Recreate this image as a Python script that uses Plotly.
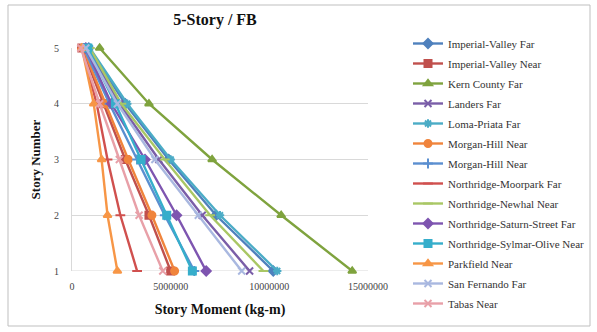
import plotly.graph_objects as go

# Story levels (1 = ground storey, 5 = roof)
stories = [1, 2, 3, 4, 5]

# Story moment (kg-m) per record, listed from story 1 to story 5
records = [
    "Imperial-Valley Far", "Imperial-Valley Near", "Kern County Far", "Landers Far",
    "Loma-Priata Far", "Morgan-Hill Near", "Morgan-Hill Near", "Northridge-Moorpark Far",
    "Northridge-Newhal Near", "Northridge-Saturn-Street Far", "Northridge-Sylmar-Olive Near",
    "Parkfield Near", "San Fernando Far", "Tabas Near",
]
imperial_valley_far = [10200000, 7300000, 4900000, 2700000, 850000]
imperial_valley_near = [5000000, 3900000, 2700000, 1600000, 500000]
kern_county_far = [14200000, 10600000, 7100000, 3900000, 1400000]
landers_far = [9000000, 6600000, 4400000, 2400000, 800000]
loma_priata_far = [10400000, 7500000, 5000000, 2800000, 900000]
morgan_hill_near_a = [5200000, 4050000, 2850000, 1700000, 550000]
morgan_hill_near_b = [6200000, 4700000, 3300000, 1900000, 600000]
northridge_moorpark_far = [3300000, 2450000, 1800000, 1250000, 500000]
northridge_newhal_near = [9700000, 7000000, 4700000, 2500000, 900000]
northridge_saturn_far = [6800000, 5300000, 3700000, 2000000, 700000]
northridge_sylmar_near = [6100000, 4800000, 3500000, 2200000, 800000]
parkfield_near = [2300000, 1800000, 1500000, 1100000, 500000]
san_fernando_far = [8600000, 6400000, 4200000, 2300000, 700000]
tabas_near = [4600000, 3400000, 2400000, 1400000, 450000]

series = [
    imperial_valley_far, imperial_valley_near, kern_county_far, landers_far,
    loma_priata_far, morgan_hill_near_a, morgan_hill_near_b, northridge_moorpark_far,
    northridge_newhal_near, northridge_saturn_far, northridge_sylmar_near,
    parkfield_near, san_fernando_far, tabas_near,
]
colors = [
    "#4F81BD", "#C0504D", "#7FA33E", "#7A5EA8", "#4BACC6", "#F0843C", "#5B8FD0",
    "#D0504E", "#A9C765", "#7E55B0", "#36AECB", "#F79646", "#A9B8E0", "#E8A0A8",
]
symbols = [
    "diamond", "square", "triangle-up", "x-thin-open", "asterisk-open", "circle",
    "cross-thin-open", "line-ew-open", "line-ew-open", "diamond", "square",
    "triangle-up", "x-thin-open", "x-thin-open",
]

fig = go.Figure()
for i, (name, vals) in enumerate(zip(records, series)):
    fig.add_trace(go.Scatter(
        x=vals, y=stories, name=name, mode="lines+markers",
        legendgroup=f"g{i}",
        line=dict(color=colors[i], width=2.4),
        marker=dict(symbol=symbols[i], size=7, color=colors[i],
                    line=dict(color=colors[i], width=2)),
        cliponaxis=False,
    ))

W, H = 597, 332
L, R, T, B = 72, 368, 48, 271
pw, ph = R - L, B - T


def px(x):
    return (x - L) / pw


def py(y):
    return (B - y) / ph


serif = "Times New Roman, Liberation Serif, serif"

fig.update_layout(
    width=W, height=H,
    margin=dict(l=L, r=W - R, t=T, b=H - B, pad=0, autoexpand=False),
    paper_bgcolor="white", plot_bgcolor="white",
    font=dict(family=serif, color="#222"),
    title=dict(text="<b>5-Story / FB</b>", x=215 / W, xanchor="center",
               y=1 - 19 / H, yanchor="middle",
               font=dict(size=16, family=serif, color="#111")),
    xaxis=dict(range=[0, 15000000], tickvals=[0, 5000000, 10000000, 15000000],
               ticktext=["0", "5000000", "10000000", "15000000"],
               showgrid=False, zeroline=False, showline=False, ticks="",
               ticklabelstandoff=8,
               tickfont=dict(size=10, family=serif, color="#444"),
               title=dict(text="<b>Story Moment (kg-m)</b>", standoff=13,
                          font=dict(size=14, family=serif, color="#111"))),
    yaxis=dict(range=[1, 5], tickvals=[1, 2, 3, 4, 5], showgrid=True,
               gridcolor="#D9D9D9", gridwidth=1, zeroline=False,
               showline=True, linecolor="#D9D9D9", linewidth=1, ticks="",
               ticklabelstandoff=10,
               tickfont=dict(size=10, family=serif, color="#444"),
               title=dict(text="<b>Story Number</b>", standoff=10,
                          font=dict(size=13, family=serif, color="#111"))),
    legend=dict(x=px(408), y=py(29), xanchor="left", yanchor="top",
                font=dict(size=11, family=serif, color="#333"),
                tracegroupgap=1, itemwidth=30, maxheight=310,
                bgcolor="rgba(0,0,0,0)"),
    shapes=[
        dict(type="rect", xref="paper", yref="paper",
             x0=px(8), x1=px(590), y0=py(326), y1=py(5),
             line=dict(color="#BFBFBF", width=1), layer="below"),
        dict(type="line", xref="paper", yref="y", x0=0, x1=1, y0=1, y1=1,
             line=dict(color="#D9D9D9", width=1), layer="below"),
    ],
)

fig.write_html("out.html")
